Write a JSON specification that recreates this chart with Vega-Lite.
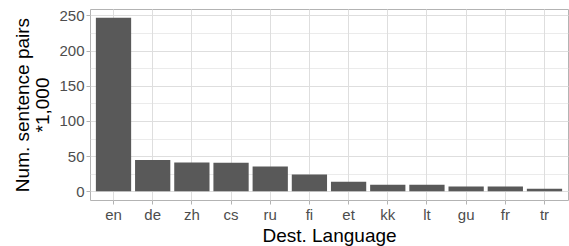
{
  "$schema": "https://vega.github.io/schema/vega-lite/v6.json",
  "autosize": {"type": "none"},
  "padding": {"left": 90, "top": 9, "right": 1, "bottom": 46},
  "width": 478,
  "height": 191,
  "background": "white",
  "config": {
    "font": "Liberation Sans",
    "view": {"stroke": "#b3b3b3", "strokeWidth": 1}
  },
  "data": {
    "values": [
      {"lang": "en", "n": 246.7},
      {"lang": "de", "n": 44.6},
      {"lang": "zh", "n": 40.8},
      {"lang": "cs", "n": 40.6},
      {"lang": "ru", "n": 35.1},
      {"lang": "fi", "n": 23.8},
      {"lang": "et", "n": 13.5},
      {"lang": "kk", "n": 9.2},
      {"lang": "lt", "n": 9.2},
      {"lang": "gu", "n": 6.8},
      {"lang": "fr", "n": 6.8},
      {"lang": "tr", "n": 3.5}
    ]
  },
  "mark": {"type": "bar", "color": "#595959"},
  "encoding": {
    "x": {
      "field": "lang",
      "type": "nominal",
      "sort": null,
      "scale": {"paddingInner": 0.1, "paddingOuter": 0.15},
      "axis": {
        "title": "Dest. Language",
        "titleFont": "Liberation Sans",
        "titleFontSize": 19,
        "titleFontWeight": "normal",
        "titleColor": "black",
        "titlePadding": 4,
        "labelAngle": 0,
        "labelColor": "#4d4d4d",
        "labelFontSize": 15,
        "labelPadding": 3,
        "bandPosition": 0.5,
        "grid": true,
        "gridColor": "#dedede",
        "gridWidth": 1,
        "domain": false,
        "tickColor": "#b3b3b3",
        "tickSize": 4,
        "tickWidth": 1
      }
    },
    "y": {
      "field": "n",
      "type": "quantitative",
      "scale": {"domain": [-12.335, 259.035], "nice": false, "zero": false},
      "axis": {
        "title": ["Num. sentence pairs", "*1,000"],
        "titleFont": "Liberation Sans",
        "titleFontSize": 19,
        "titleFontWeight": "normal",
        "titleColor": "black",
        "titleLineHeight": 20,
        "titlePadding": 6,
        "values": [0, 25, 50, 75, 100, 125, 150, 175, 200, 225, 250],
        "labelExpr": "datum.value % 50 === 0 ? datum.label : ''",
        "labelColor": "#4d4d4d",
        "labelFontSize": 15,
        "labelPadding": 2,
        "grid": true,
        "gridColor": "#dedede",
        "gridWidth": {"condition": {"test": "datum.value % 50 === 0", "value": 1}, "value": 0.6},
        "domain": false,
        "tickColor": "#b3b3b3",
        "tickSize": 4,
        "tickWidth": 1,
        "tickOpacity": {"condition": {"test": "datum.value % 50 === 0", "value": 1}, "value": 0}
      }
    }
  }
}
